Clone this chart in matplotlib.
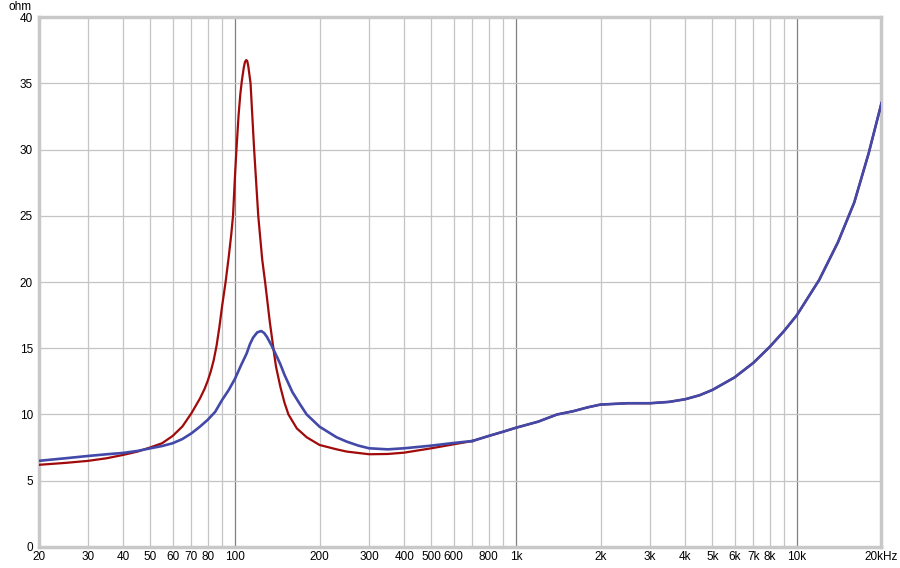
import matplotlib.pyplot as plt
from matplotlib.ticker import FixedLocator, FuncFormatter

# impedance curves (Hz, ohm)
red_freq = [20, 25, 30, 35, 40, 45, 50, 55, 60, 65, 70, 75, 78, 80, 82, 84, 86,
            88, 90, 92.6, 95, 97, 98.4, 100, 101.2, 103, 104.5, 105.8, 107.5,
            108.5, 109.6, 110.5, 111.5, 113.6, 117, 121, 125, 128, 133, 138,
            140, 145, 150, 155, 166, 180, 200, 230, 250, 300, 350, 400, 500,
            600, 700]
red_ohm = [6.2, 6.35, 6.5, 6.7, 6.95, 7.2, 7.52, 7.83, 8.38, 9.1, 10.1, 11.2,
           11.95, 12.55, 13.25, 14.1, 15.2, 16.6, 18.2, 20.0, 21.9, 23.6, 25.0,
           28.0, 30.0, 32.6, 34.2, 35.2, 36.2, 36.6, 36.75, 36.7, 36.3, 35.0,
           30.0, 25.0, 21.7, 20.0, 17.0, 14.5, 13.6, 12.1, 10.9, 10.0, 8.95,
           8.28, 7.7, 7.37, 7.2, 7.0, 7.02, 7.12, 7.45, 7.75, 8.0]

blue_freq = [20, 25, 30, 35, 40, 45, 50, 55, 60, 65, 70, 75, 80, 85, 90, 95, 100,
             105, 110, 113, 116, 120, 124, 127, 130, 135, 140, 145, 150, 160,
             170, 180, 200, 230, 250, 275, 300, 350, 400, 500, 600, 700]
blue_ohm = [6.5, 6.7, 6.87, 7.0, 7.1, 7.25, 7.45, 7.62, 7.83, 8.15, 8.58, 9.08,
            9.6, 10.2, 11.1, 11.85, 12.7, 13.7, 14.6, 15.3, 15.8, 16.2, 16.3,
            16.15, 15.85, 15.2, 14.5, 13.8, 13.0, 11.7, 10.8, 10.0, 9.08, 8.28,
            7.95, 7.65, 7.45, 7.37, 7.45, 7.65, 7.85, 8.0]

# above ~700 Hz both curves coincide
common_freq = [700, 800, 900, 1000, 1200, 1400, 1600, 1800, 2000, 2500, 3000,
               3500, 4000, 4500, 5000, 6000, 7000, 8000, 9000, 10000, 12000,
               14000, 16000, 18000, 20000]
common_ohm = [8.0, 8.38, 8.7, 9.0, 9.46, 10.0, 10.25, 10.54, 10.75, 10.85, 10.85,
              10.95, 11.15, 11.45, 11.85, 12.8, 13.9, 15.1, 16.3, 17.5, 20.15,
              23.0, 26.0, 29.7, 33.5]

decades = [100, 1000, 10000]
minor_freqs = [20, 30, 40, 50, 60, 70, 80, 90,
               200, 300, 400, 500, 600, 700, 800, 900,
               2000, 3000, 4000, 5000, 6000, 7000, 8000, 9000, 20000]
x_labels = {20: '20', 30: '30', 40: '40', 50: '50', 60: '60', 70: '70', 80: '80',
            100: '100', 200: '200', 300: '300', 400: '400', 500: '500',
            600: '600', 800: '800', 1000: '1k', 2000: '2k', 3000: '3k',
            4000: '4k', 5000: '5k', 6000: '6k', 7000: '7k', 8000: '8k',
            10000: '10k', 20000: '20kHz'}
y_ticks = [0, 5, 10, 15, 20, 25, 30, 35, 40]

plt.rcParams['font.family'] = ['Liberation Sans', 'DejaVu Sans']

fig = plt.figure(figsize=(9, 5.68), dpi=100)
ax = fig.add_axes([0.0429, 0.037, 0.9365, 0.933])

ax.set_xscale('log')
ax.set_xlim(20, 20000)
ax.set_ylim(0, 40)

red = '#a00a0a'
blue = '#4349a8'
ax.plot(common_freq, common_ohm, color=red, lw=1.6, zorder=3)
ax.plot(red_freq, red_ohm, color=red, lw=1.6, zorder=3)
ax.plot(blue_freq, blue_ohm, color=blue, lw=1.9, zorder=4)
ax.plot(common_freq, common_ohm, color=blue, lw=1.9, zorder=4)

fmt = FuncFormatter(lambda v, pos: x_labels.get(int(round(v)), ''))
ax.xaxis.set_major_locator(FixedLocator(decades))
ax.xaxis.set_minor_locator(FixedLocator(minor_freqs))
ax.xaxis.set_major_formatter(fmt)
ax.xaxis.set_minor_formatter(fmt)
ax.set_yticks(y_ticks)

ax.grid(True, which='major', axis='x', color='#808080', lw=0.9)
ax.grid(True, which='minor', axis='x', color='#c4c4c4', lw=0.9)
ax.grid(True, which='major', axis='y', color='#c4c4c4', lw=0.9)
ax.set_axisbelow(True)

ax.tick_params(which='both', length=0, labelsize=8.5, colors='black')
ax.tick_params(axis='x', which='both', pad=3)
ax.tick_params(axis='y', pad=4)

for s in ax.spines.values():
    s.set_color('#c8c8c8')
    s.set_linewidth(2.5)

fig.text(0.0356, 0.9875, 'ohm', ha='right', va='center', fontsize=8.5)

fig.savefig('out.png', dpi=100)
